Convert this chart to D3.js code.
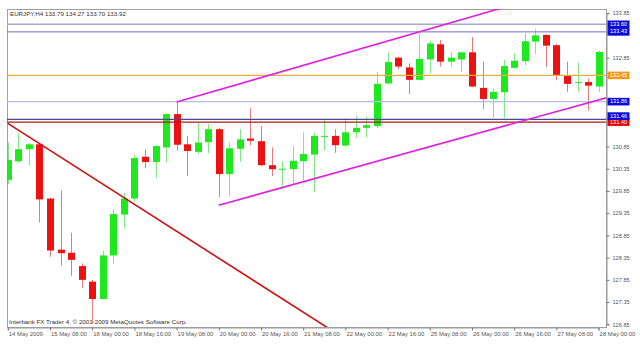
<!DOCTYPE html>
<html>
<head>
<meta charset="utf-8">
<script src="https://cdn.jsdelivr.net/npm/d3@7/dist/d3.min.js"></script>
<style>
  body { margin: 0; background: #fff; }
  svg { display: block; }
  text { font-family: "Liberation Sans", Arial, sans-serif; }
</style>
</head>
<body>
<div id="chart"></div>
<script>
let width = 640,
    height = 347,
    plot = ({ left: 7, top: 9, right: 606, bottom: 327 });

// EURJPY H4 bars, 14 May 2009 16:00 .. 28 May 2009 00:00
const openP = [130.10,130.52,130.79,130.90,129.68,128.53,128.46,128.16,127.81,127.42,
  128.40,129.32,129.68,130.62,130.50,130.83,131.58,130.90,130.73,130.95,
  131.24,130.23,130.80,131.03,130.97,130.43,130.33,130.34,130.52,130.67,
  131.07,131.09,130.87,131.17,131.27,131.31,132.27,132.85,132.63,132.35,
  132.81,133.15,132.76,132.81,132.97,132.17,131.92,132.07,132.62,132.77,
  133.21,133.36,133.13,132.44,132.29,132.30,132.20];
const highP = [130.94,131.15,130.93,130.94,129.69,129.86,128.91,128.22,127.85,128.51,
  129.45,129.81,130.66,130.79,130.88,131.60,131.86,131.09,131.39,131.36,
  131.27,130.94,131.24,131.71,131.31,130.83,130.52,130.86,131.17,131.17,
  131.45,131.24,131.49,131.54,131.52,132.53,132.97,132.87,132.72,133.40,
  133.23,133.25,132.98,132.98,133.31,132.76,132.16,132.80,132.95,133.40,
  133.49,133.37,133.16,132.76,132.74,132.38,133.01];
const lowP = [130.01,130.48,130.43,129.14,128.37,128.17,127.94,127.67,126.88,127.41,
  128.21,129.01,129.61,130.36,130.14,130.49,130.76,130.19,130.68,130.70,
  129.71,129.74,130.51,130.88,130.41,130.19,129.92,130.01,130.07,129.82,
  130.77,130.71,130.85,131.04,131.06,131.26,132.26,132.59,132.03,132.34,
  132.50,132.65,132.65,132.53,132.19,131.69,131.49,131.49,132.61,132.68,
  132.93,132.64,132.34,132.08,132.08,131.66,132.08];
const closeP = [130.55,130.79,130.90,129.66,128.51,128.45,128.30,127.85,127.42,128.40,
  129.33,129.68,130.59,130.50,130.86,131.58,130.89,130.75,130.94,131.24,
  130.23,130.81,131.01,130.98,130.43,130.34,130.35,130.53,130.68,131.09,
  131.09,130.88,131.17,131.27,131.33,132.26,132.75,132.65,132.35,132.82,
  133.17,132.76,132.85,132.97,132.20,131.92,132.08,132.66,132.78,133.22,
  133.35,133.12,132.46,132.26,132.30,132.22,132.98];

const timeTickBars = [0,4,8,12,16,20,24,28,32,36,40,44,48,52,56];
const timeTickLabels = ["14 May 2009","15 May 08:00","18 May 00:00","18 May 16:00","19 May 08:00",
  "20 May 00:00","20 May 16:00","21 May 08:00","22 May 00:00","22 May 16:00",
  "25 May 08:00","26 May 00:00","26 May 16:00","27 May 08:00","28 May 00:00"];
const priceTicks = [126.85,127.35,127.85,128.35,128.85,129.35,129.85,130.35,130.85,
  131.35,131.85,132.35,132.85,133.35,133.85];

// horizontal levels and trend lines (bar index, price)
const levels = [133.60, 133.43, 132.45, 131.86, 131.46, 131.40];
const trendRed = [[0, 131.37], [30, 126.82]];
const channelTop = [[16, 131.85], [46, 133.91]];
const channelBottom = [[20, 129.53], [56, 131.90]];

const headerText = "EURJPY,H4  133.79 134.27 133.70 133.92";
const footerText = "Interbank FX Trader 4, \u00a9 2001-2009 MetaQuotes Software Corp.";

// styles for the levels, same order
const levelStroke = ["#a8a8c8", "#7b68c8", "#e8b040", "#b8bce0", "#4a4a90", "#b01818"];
const levelWidth = [1.6, 1, 1.2, 1.2, 1.2, 1.4];
const levelBox = ["#0a0ad8", "#0a0ad8", "#f09a18", "#0a0ad8", "#0a0ad8", "#e00000"];

const svg = d3.select("#chart")
  .append("svg")
  .attr("width", width)
  .attr("height", height);

let x = d3.scaleLinear()
  .domain([0, 56])
  .range([7.8, 598.6]);

let y = d3.scaleLinear()
  .domain([126.85, 133.85])
  .range([324.3, 13.2]);

svg.append("clipPath")
  .attr("id", "clip")
  .append("rect")
  .attr("x", plot.left)
  .attr("y", plot.top)
  .attr("width", plot.right - plot.left)
  .attr("height", plot.bottom - plot.top);

// frame
svg.append("rect")
  .attr("x", plot.left + 0.5)
  .attr("y", plot.top + 0.5)
  .attr("width", plot.right - plot.left)
  .attr("height", plot.bottom - plot.top)
  .attr("fill", "none")
  .attr("stroke", "#a0a0a0");

// price tags on the right, pushed apart when too close
let tags = levels.map((v, k) => ({ v: v, k: k, ty: y(v) }))
  .sort((a, b) => b.ty - a.ty);
for (let n = 1; n < tags.length; n++) {
  if (tags[n - 1].ty - tags[n].ty < 6) tags[n].ty = tags[n - 1].ty - 6;
}

// grid labels that sit under a tag are hidden, as in the terminal
let shownTicks = priceTicks.filter(p => tags.every(t => Math.abs(y(p) - t.ty) > 4.5));

// right price axis
let yAxis = svg.append("g")
  .attr("transform", `translate(${plot.right + 0.5},0)`)
  .call(d3.axisRight(y).tickValues(shownTicks).tickSize(3).tickPadding(3).tickFormat(d3.format(".2f")));
yAxis.select(".domain").attr("stroke", "#9a9a9a");
yAxis.selectAll(".tick line").attr("stroke", "#777");
yAxis.selectAll("text").attr("font-size", 5.6).attr("fill", "#555");

// bottom time axis
let xAxis = svg.append("g")
  .attr("transform", `translate(0,${plot.bottom + 0.5})`)
  .call(d3.axisBottom(x).tickValues(timeTickBars).tickSize(3).tickPadding(1)
    .tickFormat((d, i) => timeTickLabels[i]));
xAxis.select(".domain").attr("stroke", "#9a9a9a");
xAxis.selectAll(".tick line").attr("stroke", "#777");
xAxis.selectAll("text")
  .attr("font-size", 5.9)
  .attr("fill", "#555")
  .attr("text-anchor", "start")
  .attr("x", 0.5);

// candles
let bars = d3.range(openP.length).map(i => ({
  i: i, o: openP[i], h: highP[i], l: lowP[i], c: closeP[i]
}));

let candles = svg.append("g")
  .attr("clip-path", "url(#clip)")
  .selectAll("g")
  .data(bars)
  .join("g");

candles.append("line")
  .attr("x1", d => Math.round(x(d.i)) + 0.5)
  .attr("x2", d => Math.round(x(d.i)) + 0.5)
  .attr("y1", d => y(d.h))
  .attr("y2", d => y(d.l))
  .attr("stroke", d => d.c >= d.o ? "#2fd82f" : "#e02020")
  .attr("stroke-opacity", 0.6);

candles.append("rect")
  .attr("x", d => Math.round(x(d.i)) - 3)
  .attr("width", 7)
  .attr("y", d => y(Math.max(d.o, d.c)))
  .attr("height", d => Math.max(1, y(Math.min(d.o, d.c)) - y(Math.max(d.o, d.c))))
  .attr("fill", d => d.c >= d.o ? "#1ee81e" : "#ee1111");

// objects on top of candles
let objects = svg.append("g").attr("clip-path", "url(#clip)");

levels.forEach((v, k) => {
  objects.append("line")
    .attr("x1", plot.left)
    .attr("x2", plot.right)
    .attr("y1", y(v))
    .attr("y2", y(v))
    .attr("stroke", levelStroke[k])
    .attr("stroke-width", levelWidth[k]);
});

function ray(pts, color) {
  let [a, b] = pts;
  let x1 = x(a[0]), y1 = y(a[1]), x2 = x(b[0]), y2 = y(b[1]);
  let slope = (y2 - y1) / (x2 - x1);
  x2 = plot.right + 20;
  y2 = y1 + slope * (x2 - x1);
  objects.append("line")
    .attr("x1", x1).attr("y1", y1)
    .attr("x2", x2).attr("y2", y2)
    .attr("stroke", color)
    .attr("stroke-width", 1.6);
}

ray(trendRed, "#d01010");
ray(channelTop, "#e21ee2");
ray(channelBottom, "#e21ee2");

let tagG = svg.append("g");
for (let t of tags) {
  tagG.append("rect")
    .attr("x", plot.right + 1.5)
    .attr("y", t.ty - 3.8)
    .attr("width", 22)
    .attr("height", 7.6)
    .attr("fill", levelBox[t.k]);
}
for (let t of tags) {
  tagG.append("text")
    .attr("x", plot.right + 4)
    .attr("y", t.ty)
    .attr("dominant-baseline", "middle")
    .attr("font-size", 5.6)
    .attr("fill", "#fff")
    .text(d3.format(".2f")(t.v));
}

// header and copyright
svg.append("text")
  .attr("x", 10)
  .attr("y", 15.6)
  .attr("font-size", 6.2)
  .attr("fill", "#333")
  .text(headerText);

svg.append("text")
  .attr("x", 9)
  .attr("y", 324)
  .attr("font-size", 6.2)
  .attr("fill", "#333")
  .text(footerText);
</script>
</body>
</html>
